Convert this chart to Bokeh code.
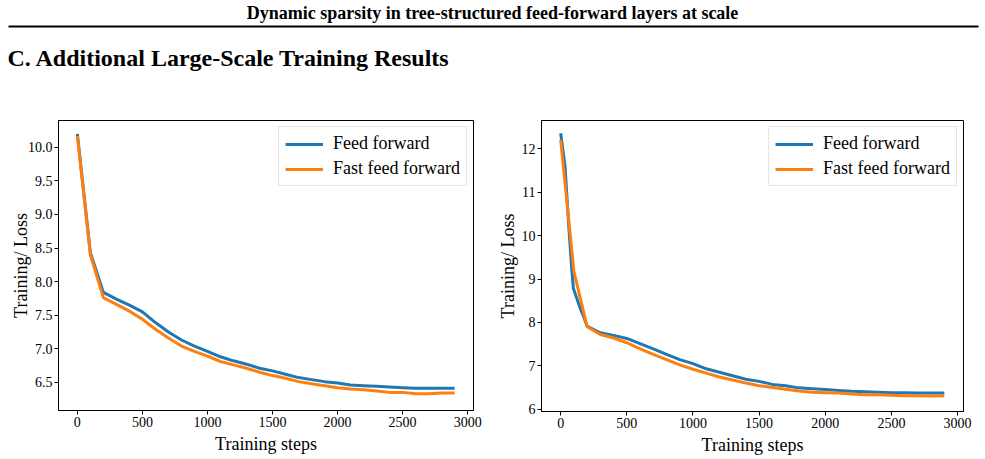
from bokeh.plotting import figure
from bokeh.layouts import column, row
from bokeh.models import (Range1d, FixedTicker, PrintfTickFormatter, Legend, LegendItem,
                          Label, BoxAnnotation)
from bokeh.embed import file_html
from bokeh.resources import INLINE

# ---------------- data ----------------
steps_a = [0, 100, 200, 300, 400, 500, 600, 700, 800, 900, 1000, 1100, 1200, 1300, 1400,
           1500, 1600, 1700, 1800, 1900, 2000, 2100, 2200, 2300, 2400, 2500, 2600, 2700, 2800, 2900]
ff_a = [10.20, 8.43, 7.84, 7.74, 7.65, 7.55, 7.39, 7.25, 7.13, 7.04, 6.96, 6.88, 6.82, 6.77, 6.71,
        6.67, 6.62, 6.57, 6.54, 6.51, 6.49, 6.46, 6.45, 6.44, 6.43, 6.42, 6.41, 6.41, 6.41, 6.41]
fff_a = [10.17, 8.40, 7.76, 7.66, 7.56, 7.44, 7.29, 7.16, 7.04, 6.96, 6.89, 6.81, 6.76, 6.71, 6.65,
         6.60, 6.56, 6.51, 6.48, 6.45, 6.42, 6.40, 6.39, 6.37, 6.35, 6.35, 6.33, 6.33, 6.34, 6.34]

steps_b_ff = [0, 33, 65, 83, 96, 146, 175, 200, 300, 400, 500, 600, 700, 800, 900, 1000, 1100, 1200,
              1300, 1400, 1500, 1600, 1700, 1800, 1900, 2000, 2100, 2200, 2300, 2400, 2500, 2600,
              2700, 2800, 2900]
ff_b = [12.36, 11.59, 10.04, 9.27, 8.78, 8.34, 8.12, 7.91, 7.76, 7.70, 7.63, 7.51, 7.39, 7.26, 7.14,
        7.05, 6.93, 6.85, 6.77, 6.69, 6.64, 6.57, 6.54, 6.49, 6.47, 6.45, 6.43, 6.41, 6.40, 6.39,
        6.38, 6.38, 6.37, 6.37, 6.37]
steps_b_fff = [0, 100, 200, 300, 400, 500, 600, 700, 800, 900, 1000, 1100, 1200, 1300, 1400,
               1500, 1600, 1700, 1800, 1900, 2000, 2100, 2200, 2300, 2400, 2500, 2600, 2700, 2800, 2900]
fff_b = [12.21, 9.17, 7.90, 7.72, 7.64, 7.53, 7.39, 7.26, 7.14, 7.02, 6.92, 6.83, 6.74, 6.67, 6.60,
         6.54, 6.50, 6.46, 6.42, 6.39, 6.38, 6.37, 6.35, 6.33, 6.33, 6.32, 6.31, 6.31, 6.30, 6.31]

x_ticks = [0, 500, 1000, 1500, 2000, 2500, 3000]
y_ticks_a = [6.5, 7.0, 7.5, 8.0, 8.5, 9.0, 9.5, 10.0]
y_ticks_b = [6, 7, 8, 9, 10, 11, 12]
series_names = ["Feed forward", "Fast feed forward"]
x_label = "Training steps"
y_label = "Training/ Loss"
page_title = "Dynamic sparsity in tree-structured feed-forward layers at scale"
section_title = "C. Additional Large-Scale Training Results"

BLUE = "#1f77b4"
ORANGE = "#ff7f0e"
FONT = "Liberation Serif"

# ---------------- header ----------------
hdr = figure(width=985, height=100, x_range=Range1d(0, 985), y_range=Range1d(100, 0),
             output_backend="svg", toolbar_location=None, x_axis_type=None, y_axis_type=None,
             min_border=0, outline_line_color=None)
hdr.grid.visible = False
hdr.add_layout(Label(x=492, y=12, text=page_title, text_font=FONT, text_font_style="bold",
                     text_font_size="18px", text_color="black", text_align="center",
                     text_baseline="middle"))
hdr.add_layout(BoxAnnotation(left=8, right=978, top=25, bottom=27, fill_color="black",
                             fill_alpha=1, line_color=None))
hdr.add_layout(Label(x=7, y=57, text=section_title, text_font=FONT, text_font_style="bold",
                     text_font_size="24px", text_color="black", text_align="left",
                     text_baseline="middle"))


def make_plot(xs_ff, ys_ff, xs_fff, ys_fff, yr, yticks, fmt, left, fw, right, top, fh, bottom,
              ylab_standoff):
    p = figure(frame_width=fw, frame_height=fh, min_border_left=left, min_border_right=right,
               min_border_top=top, min_border_bottom=bottom,
               x_range=Range1d(-145, 3045), y_range=Range1d(*yr),
               output_backend="svg", toolbar_location=None)
    p.grid.visible = False
    p.outline_line_color = "black"
    p.outline_line_width = 1
    r1 = p.line(xs_ff, ys_ff, line_color=BLUE, line_width=3)
    r2 = p.line(xs_fff, ys_fff, line_color=ORANGE, line_width=3)
    for ax in (p.xaxis[0], p.yaxis[0]):
        ax.major_label_text_font = FONT
        ax.major_label_text_font_size = "14px"
        ax.major_label_text_color = "black"
        ax.axis_label_text_font = FONT
        ax.axis_label_text_font_size = "18px"
        ax.axis_label_text_font_style = "normal"
        ax.axis_label_text_color = "black"
        ax.major_tick_out = 4
        ax.major_tick_in = 0
        ax.minor_tick_out = 0
        ax.minor_tick_in = 0
        ax.major_label_standoff = 2
        ax.axis_line_color = "black"
    p.xaxis[0].ticker = FixedTicker(ticks=x_ticks)
    p.yaxis[0].ticker = FixedTicker(ticks=yticks)
    p.yaxis[0].formatter = PrintfTickFormatter(format=fmt)
    p.xaxis[0].axis_label = x_label
    p.yaxis[0].axis_label = y_label
    p.xaxis[0].axis_label_standoff = 4
    p.yaxis[0].axis_label_standoff = ylab_standoff
    leg = Legend(items=[LegendItem(label=series_names[0], renderers=[r1]),
                        LegendItem(label=series_names[1], renderers=[r2])],
                 location="top_right", margin=6, padding=6, spacing=4,
                 glyph_width=38, glyph_height=20, label_height=20, label_standoff=10,
                 label_text_font=FONT, label_text_font_size="18px", label_text_color="black",
                 border_line_color="#cccccc", border_line_width=1,
                 background_fill_color="white", background_fill_alpha=0.8)
    p.add_layout(leg)
    return p


p1 = make_plot(steps_a, ff_a, steps_a, fff_a, (6.08, 10.40), y_ticks_a, "%.1f",
               58, 415, 17, 19, 290, 50, -6)
p2 = make_plot(steps_b_ff, ff_b, steps_b_fff, fff_b, (5.945, 12.655), y_ticks_b, "%d",
               51, 422, 22, 20, 291, 48, 1)

layout = column(hdr, row(p1, p2, spacing=0), spacing=0)
open("out.html", "w").write(file_html(layout, INLINE))
